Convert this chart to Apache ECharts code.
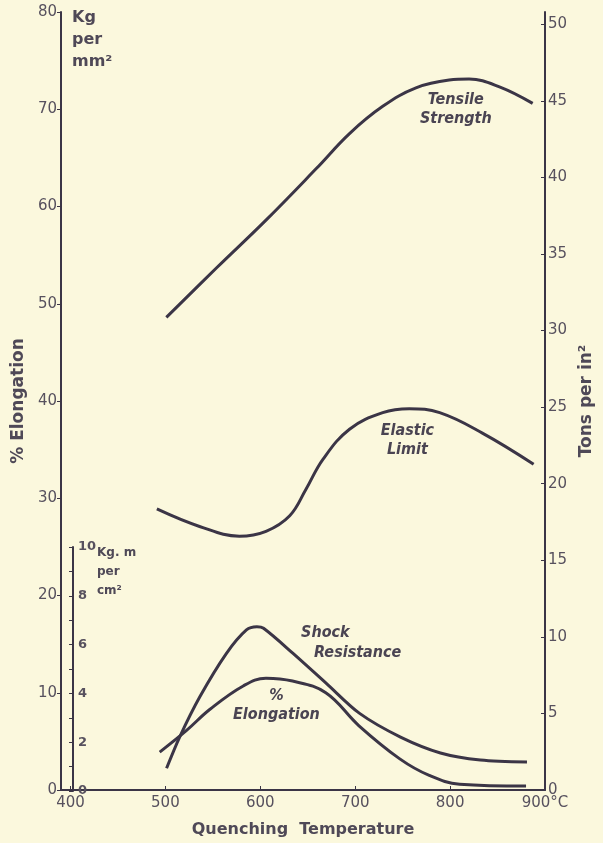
<!DOCTYPE html>
<html>
<head>
<meta charset="utf-8">
<script src="https://cdn.jsdelivr.net/npm/echarts@6/dist/echarts.min.js"></script>
<style>
  html, body { margin: 0; padding: 0; background: #fbf8dd; }
  #chart { width: 603px; height: 843px; }
</style>
</head>
<body>
<div id="chart"></div>
<script>
// ---- data ----
const tensileT = [501, 554, 606, 659, 694, 729, 764, 799, 820, 852, 887];
const tensileV = [48.6, 53.7, 58.6, 63.9, 67.5, 70.3, 72.2, 73.0, 73.1, 72.3, 70.6];

const elasticT = [491, 536, 578, 606, 631, 648, 666, 694, 729, 757, 789, 834, 888];
const elasticV = [28.9, 27.1, 26.1, 26.6, 28.2, 30.9, 34.0, 37.1, 38.8, 39.2, 38.8, 36.7, 33.5];

const shockT = [501, 515, 536, 564, 585, 596, 603, 634, 669, 704, 747, 789, 831, 880];
const shockV = [0.93, 2.23, 3.86, 5.64, 6.60, 6.73, 6.67, 5.64, 4.41, 3.18, 2.21, 1.56, 1.27, 1.19];

const elongT = [494, 522, 547, 582, 606, 634, 669, 704, 747, 778, 810, 880];
const elongV = [3.9, 6.1, 8.3, 10.7, 11.5, 11.2, 10.0, 6.6, 3.2, 1.5, 0.6, 0.4];

const xTicks = [400, 500, 600, 700, 800, 900];
const leftTicks = [0, 10, 20, 30, 40, 50, 60, 70, 80];
const rightTicks = [0, 5, 10, 15, 20, 25, 30, 35, 40, 45, 50];
const innerTicks = [0, 2, 4, 6, 8, 10];

const KG_TO_TONS = 0.635;

const pair = (xs, ys) => xs.map((x, i) => [x, ys[i]]);

const INK = '#3b3546';
const TXT = '#57515e';
const labelFont = "'DejaVu Sans Condensed', 'DejaVu Sans', sans-serif";
const tickFont = "'DejaVu Sans', sans-serif";

const chart = echarts.init(document.getElementById('chart'), null, { renderer: 'canvas' });

function curveLabel(coord, text) {
  return {
    coord: coord,
    symbol: 'circle',
    symbolSize: 0.01,
    label: {
      show: true,
      position: 'inside',
      formatter: text,
      fontFamily: labelFont,
      fontStyle: 'italic',
      fontWeight: 'bold',
      fontSize: 16,
      lineHeight: 19,
      color: '#4a4452',
      align: 'center'
    }
  };
}

const lineStyle = { color: INK, width: 3 };

chart.setOption({
  backgroundColor: '#fbf8dd',
  animation: false,
  grid: [
    { left: 61, right: 57, top: 12, bottom: 52 },
    { left: 61, right: 57, top: 547, bottom: 52 }
  ],
  xAxis: [
    {
      type: 'value', gridIndex: 0, min: 390, max: 900,
      name: 'Quenching  Temperature', nameLocation: 'middle', nameGap: 32,
      nameTextStyle: { fontFamily: tickFont, fontWeight: 'bold', fontSize: 16, color: '#4f4957' },
      axisLine: { show: true, lineStyle: { color: INK, width: 2 } },
      axisTick: { show: true, inside: true, length: 4, customValues: xTicks, lineStyle: { color: INK } },
      axisLabel: {
        customValues: xTicks, margin: 6,
        fontFamily: tickFont, fontSize: 15, color: TXT,
        formatter: v => v === 900 ? '900°C' : String(v)
      },
      splitLine: { show: false }
    },
    {
      type: 'value', gridIndex: 1, min: 390, max: 900, show: false
    }
  ],
  yAxis: [
    {
      type: 'value', gridIndex: 0, position: 'left', min: 0, max: 80, interval: 10,
      name: '% Elongation', nameLocation: 'middle', nameRotate: 90, nameGap: 34,
      nameTextStyle: { fontFamily: tickFont, fontWeight: 'bold', fontSize: 17, color: '#4f4957' },
      axisLine: { show: true, lineStyle: { color: INK, width: 2 } },
      axisTick: { show: true, length: 4, lineStyle: { color: INK } },
      axisLabel: { margin: 4, fontFamily: tickFont, fontSize: 15, color: TXT },
      splitLine: { show: false }
    },
    {
      type: 'value', gridIndex: 0, position: 'right', min: 0, max: 80 * KG_TO_TONS,
      name: 'Tons per in²', nameLocation: 'middle', nameRotate: 90, nameGap: 32,
      nameTextStyle: { fontFamily: tickFont, fontWeight: 'bold', fontSize: 17, color: '#4f4957' },
      axisLine: { show: true, lineStyle: { color: INK, width: 2 } },
      axisTick: { show: true, inside: true, length: 4, customValues: rightTicks, lineStyle: { color: INK } },
      axisLabel: { customValues: rightTicks, margin: 3, fontFamily: tickFont, fontSize: 15, color: TXT },
      splitLine: { show: false }
    },
    {
      type: 'value', gridIndex: 1, position: 'left', offset: -12, min: 0, max: 10, interval: 2,
      axisLine: { show: true, lineStyle: { color: INK, width: 2 } },
      axisTick: { show: true, length: 4, lineStyle: { color: INK } },
      minorTick: { show: true, splitNumber: 2, length: 4, lineStyle: { color: INK } },
      axisLabel: { inside: true, margin: 5, fontFamily: tickFont, fontWeight: 'bold', fontSize: 13, color: TXT },
      splitLine: { show: false }
    }
  ],
  graphic: [
    {
      type: 'text', left: 72, top: 7,
      style: {
        text: 'Kg\nper\nmm²', fontFamily: tickFont, fontWeight: 'bold', fontSize: 16,
        lineHeight: 22, fill: '#4f4957'
      }
    },
    {
      type: 'text', left: 97, top: 543,
      style: {
        text: 'Kg. m\nper\ncm²', fontFamily: tickFont, fontWeight: 'bold', fontSize: 12,
        lineHeight: 19, fill: '#4f4957'
      }
    }
  ],
  series: [
    {
      name: 'Tensile Strength', type: 'line', xAxisIndex: 0, yAxisIndex: 0,
      data: pair(tensileT, tensileV), smooth: 0.4, showSymbol: false, lineStyle,
      markPoint: { data: [curveLabel([806, 70.0], 'Tensile\nStrength')] }
    },
    {
      name: 'Elastic Limit', type: 'line', xAxisIndex: 0, yAxisIndex: 0,
      data: pair(elasticT, elasticV), smooth: 0.4, showSymbol: false, lineStyle,
      markPoint: { data: [curveLabel([755, 36.0], 'Elastic\nLimit')] }
    },
    {
      name: '% Elongation', type: 'line', xAxisIndex: 0, yAxisIndex: 0,
      data: pair(elongT, elongV), smooth: 0.4, showSymbol: false, lineStyle,
      markPoint: { data: [curveLabel([617, 8.7], '%\nElongation')] }
    },
    {
      name: 'Shock Resistance', type: 'line', xAxisIndex: 1, yAxisIndex: 2,
      data: pair(shockT, shockV), smooth: 0.3, showSymbol: false, lineStyle,
      markPoint: { data: [curveLabel([668, 6.5], 'Shock'), curveLabel([702, 5.66], 'Resistance')] }
    }
  ]
});
</script>
</body>
</html>
